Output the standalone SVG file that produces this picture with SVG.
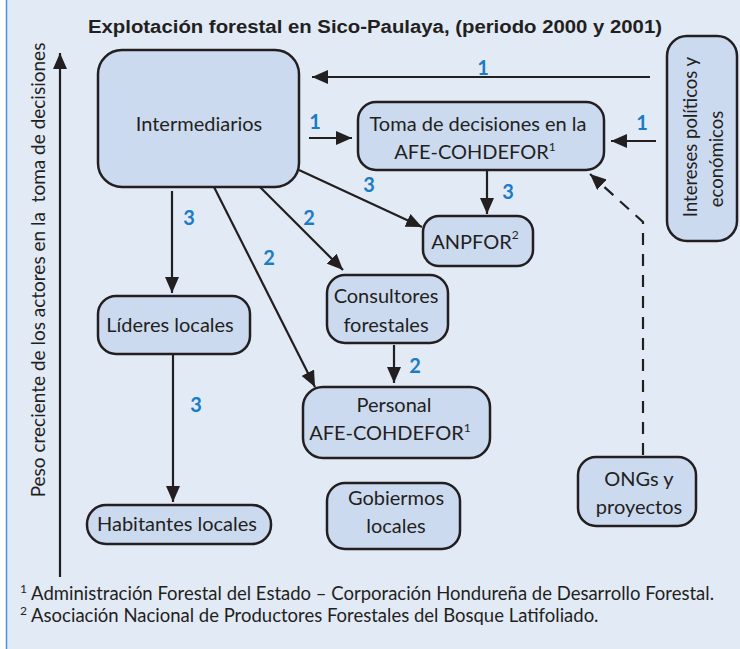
<svg xmlns="http://www.w3.org/2000/svg" width="740" height="649" viewBox="0 0 740 649">
<style>
.box{fill:#ccdaf0;stroke:#231f20;stroke-width:2.5}
.t{font-family:Lato,"Open Sans",sans-serif;font-size:20px;fill:#231f20;text-anchor:middle}
.lbl{font-family:Lato,"Noto Sans",sans-serif;font-size:20px;font-weight:bold;fill:#1b7cc6;text-anchor:middle}
.ln{stroke:#231f20;stroke-width:2.2;fill:none}
.fn{font-family:Lato,"Open Sans",sans-serif;font-size:18.5px;fill:#231f20}
</style>
<defs>
<marker id="ah" viewBox="0 0 16 14" refX="16" refY="7" markerWidth="16" markerHeight="14" markerUnits="userSpaceOnUse" orient="auto">
<path d="M0,0 L16,7 L0,14 z" fill="#231f20"/>
</marker>
</defs>
<rect x="6.5" y="-5" width="740" height="660" fill="#e2eaf6" stroke="#4a90d9" stroke-width="1.5"/>
<text x="375" y="33" font-family="'Liberation Sans',Arial,sans-serif" font-size="18" font-weight="bold" fill="#231f20" text-anchor="middle" textLength="574" lengthAdjust="spacingAndGlyphs">Explotación forestal en Sico-Paulaya, (periodo 2000 y 2001)</text>
<g id="axis">
<line class="ln" x1="60" y1="577" x2="60" y2="53" marker-end="url(#ah)"/>
<text class="t" transform="translate(45,270) rotate(-90)" x="0" y="0" font-size="19" style="white-space:pre;font-size:19px" xml:space="preserve">Peso creciente de los actores en la  toma de decisiones</text>
</g>
<g id="connectors">
<line class="ln" x1="650" y1="77" x2="312" y2="77" marker-end="url(#ah)"/>
<line class="ln" x1="309" y1="138" x2="352" y2="138" marker-end="url(#ah)"/>
<line class="ln" x1="656" y1="141" x2="611" y2="141" marker-end="url(#ah)"/>
<line class="ln" x1="487" y1="170" x2="487" y2="214" marker-end="url(#ah)"/>
<line class="ln" x1="299" y1="170" x2="422" y2="227" marker-end="url(#ah)"/>
<line class="ln" x1="260" y1="187" x2="343" y2="270" marker-end="url(#ah)"/>
<line class="ln" x1="214" y1="187" x2="315" y2="387" marker-end="url(#ah)"/>
<line class="ln" x1="172" y1="191" x2="172" y2="293" marker-end="url(#ah)"/>
<line class="ln" x1="394" y1="345" x2="394" y2="383" marker-end="url(#ah)"/>
<line class="ln" x1="173" y1="354" x2="173" y2="502" marker-end="url(#ah)"/>
<path class="ln" d="M643,455 L643,222 L590,174" stroke-dasharray="12 9" marker-end="url(#ah)"/>
<text class="lbl" x="483" y="75">1</text>
<text class="lbl" x="315" y="129">1</text>
<text class="lbl" x="642" y="130">1</text>
<text class="lbl" x="369" y="192">3</text>
<text class="lbl" x="508" y="199">3</text>
<text class="lbl" x="189" y="225">3</text>
<text class="lbl" x="309" y="225">2</text>
<text class="lbl" x="269" y="265">2</text>
<text class="lbl" x="415" y="373">2</text>
<text class="lbl" x="196" y="412">3</text>
</g>
<g id="intermediarios">
<rect class="box" x="98" y="50" width="201" height="137" rx="24"/>
<text class="t" x="199" y="131">Intermediarios</text>
</g>
<g id="toma">
<rect class="box" x="358" y="102" width="246" height="68" rx="18"/>
<text class="t" x="478" y="131">Toma de decisiones en la</text>
<text class="t" x="475" y="159">AFE-COHDEFOR<tspan font-size="12" dy="-8">1</tspan></text>
</g>
<g id="anpfor">
<rect class="box" x="423" y="216" width="110" height="50" rx="16"/>
<text class="t" x="475" y="249">ANPFOR<tspan font-size="12" dy="-10">2</tspan></text>
</g>
<g id="intereses">
<rect class="box" x="667" y="36" width="70" height="205" rx="20"/>
<text class="t" transform="translate(697,137) rotate(-90)" style="font-size:18.5px">Intereses políticos y</text>
<text class="t" transform="translate(723,159) rotate(-90)" style="font-size:18.5px">económicos</text>
</g>
<g id="lideres">
<rect class="box" x="98" y="296" width="152" height="58" rx="18"/>
<text class="t" x="170" y="332">Líderes locales</text>
</g>
<g id="consultores">
<rect class="box" x="327" y="275" width="121" height="68" rx="18"/>
<text class="t" x="386" y="303">Consultores</text>
<text class="t" x="386" y="332">forestales</text>
</g>
<g id="personal">
<rect class="box" x="303" y="387" width="187" height="71" rx="20"/>
<text class="t" x="394" y="412">Personal</text>
<text class="t" x="390" y="440">AFE-COHDEFOR<tspan font-size="12" dy="-8">1</tspan></text>
</g>
<g id="habitantes">
<rect class="box" x="87" y="505" width="184" height="39" rx="19"/>
<text class="t" x="177" y="531">Habitantes locales</text>
</g>
<g id="gobiermos">
<rect class="box" x="327" y="483" width="133" height="66" rx="18"/>
<text class="t" x="396" y="505">Gobiermos</text>
<text class="t" x="396" y="533">locales</text>
</g>
<g id="ongs">
<rect class="box" x="578" y="457" width="118" height="69" rx="18"/>
<text class="t" x="639" y="486">ONGs y</text>
<text class="t" x="639" y="514">proyectos</text>
</g>
<text class="fn" x="20" y="600"><tspan font-size="12" dy="-7">1</tspan><tspan dy="7"> Administración Forestal del Estado – Corporación Hondureña de Desarrollo Forestal.</tspan></text>
<text class="fn" x="20" y="622"><tspan font-size="12" dy="-7">2</tspan><tspan dy="7"> Asociación Nacional de Productores Forestales del Bosque Latifoliado.</tspan></text>
</svg>
